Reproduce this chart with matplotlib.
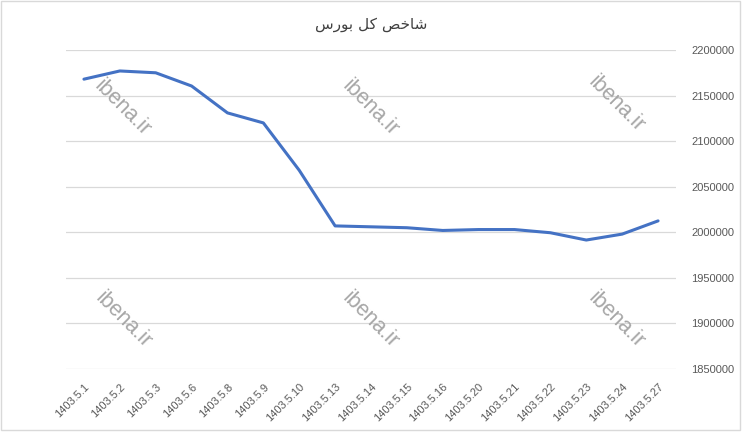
import matplotlib
matplotlib.use('Agg')
import matplotlib.pyplot as plt
from matplotlib.patches import Rectangle

dates = ['1403.5.1', '1403.5.2', '1403.5.3', '1403.5.6', '1403.5.8', '1403.5.9',
         '1403.5.10', '1403.5.13', '1403.5.14', '1403.5.15', '1403.5.16',
         '1403.5.20', '1403.5.21', '1403.5.22', '1403.5.23', '1403.5.24', '1403.5.27']
index_values = [2168000, 2177000, 2175000, 2160500, 2131000, 2120000,
                2068000, 2007000, 2006000, 2005000, 2002000,
                2003000, 2003000, 1999500, 1991500, 1998000, 2012500]
y_ticks = [1850000, 1900000, 1950000, 2000000, 2050000, 2100000, 2150000, 2200000]

# title "شاخص کل بورس" written in presentation forms, visual order (no shaping in mpl)
title = '\ufeb1\ufead\ufeee\ufe91 \ufede\ufb90 \ufeba\ufea7\ufe8e\ufeb7'

W, H = 742, 434
fig = plt.figure(figsize=(W / 100, H / 100), dpi=100)
ax = fig.add_axes([66 / W, 1 - 369 / H, (676 - 66) / W, (369 - 50) / H])

x = list(range(len(dates)))
ax.plot(x, index_values, color='#4472C4', linewidth=2.2, solid_capstyle='round')

ax.set_xlim(-0.5, len(dates) - 0.5)
ax.set_ylim(1850000, 2200000)
ax.set_yticks(y_ticks)
ax.set_yticklabels([str(v) for v in y_ticks])
ax.yaxis.tick_right()
ax.grid(axis='y', color='#d9d9d9', linewidth=0.9)
ax.set_axisbelow(True)
for s in ax.spines.values():
    s.set_visible(False)

ax.set_xticks(x)
ax.set_xticklabels(dates, rotation=45, ha='right', va='top', rotation_mode='anchor')
ax.tick_params(axis='both', length=0, colors='#595959', labelsize=8)
ax.tick_params(axis='y', pad=11)
ax.tick_params(axis='x', pad=9)
for lbl in ax.get_xticklabels() + ax.get_yticklabels():
    lbl.set_family('Liberation Sans')

fig.text(371 / W, 1 - 24 / H, title, ha='center', va='center',
         fontsize=11, color='#404040', family='DejaVu Sans')

# watermarks
for cx, cy in [(122, 108), (370, 108), (616, 104), (123, 320), (370, 320), (616, 320)]:
    fig.text(cx / W, 1 - cy / H, 'ibena.ir', rotation=-45, ha='center', va='center',
             fontsize=15.5, color='#a6a6a6', family='Liberation Sans')

fig.add_artist(Rectangle((0.5 / W, 4 / H), 739 / W, 1 - 4.5 / H, transform=fig.transFigure,
                         fill=False, edgecolor='#d9d9d9', linewidth=1))

fig.savefig('out.png', dpi=100)
